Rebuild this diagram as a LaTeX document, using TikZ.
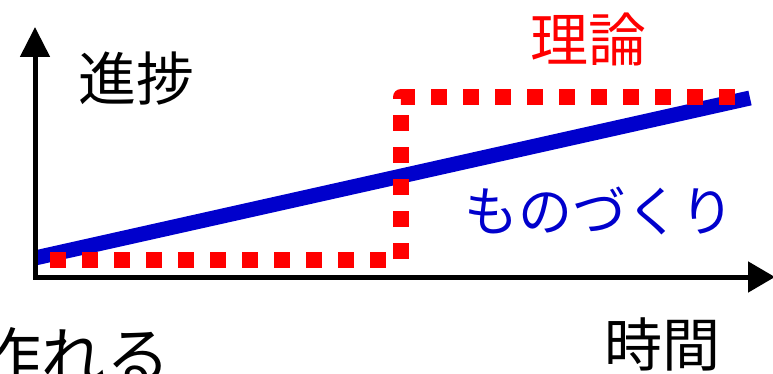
\documentclass[tikz,border=0pt]{standalone}
\usepackage{fontspec}
\newfontfamily\jpfont{Noto Sans CJK JP}
\usetikzlibrary{arrows.meta}
\definecolor{mblue}{RGB}{0,0,204}
\definecolor{tred}{RGB}{255,0,0}
\tikzset{
  axis/.style={line width=5pt, line join=miter, {Triangle[length=30pt,width=29pt]}-{Triangle[length=27pt,width=30pt]}},
  bluebar/.style={line width=15pt, draw=mblue, line cap=butt},
  reddots/.style={line width=16pt, draw=tred, line cap=butt, line join=round, dash pattern=on 16pt off 16pt},
  lbl/.style={inner sep=0pt, font=\jpfont\fontsize{58}{60}\selectfont},
}
\begin{document}
\begin{tikzpicture}[x=1pt,y=-1pt]
\useasboundingbox (0,0) rectangle (773,374);
% coordinates
\coordinate (o) at (35,277);
\coordinate (ytip) at (35,27);
\coordinate (xtip) at (775,277);
\coordinate (b1) at (35,258);
\coordinate (b2) at (750,98);
\coordinate (r0) at (50,260);
\coordinate (r1) at (401,260);
\coordinate (r2) at (401,97);
\coordinate (r3) at (740,97);
% blue line
\draw[bluebar] (b1) -- (b2);
% red dotted line
\draw[reddots] (r0) -- (r1) -- (r2) -- (r3);
% axes
\draw[axis] (ytip) -- (o) -- (xtip);
% labels
\node[lbl] (shinchoku) at (136,79) {進捗};
\node[lbl, text=tred] (riron) at (588,39) {理論};
\node[lbl, text=mblue, font=\jpfont\fontsize{54}{56}\selectfont] (monozukuri) at (599,211) {ものづくり};
\node[lbl] (jikan) at (662,344) {時間};
\node[lbl, font=\jpfont\fontsize{64}{66}\selectfont] (tsukureru) at (74,356) {作れる};
\end{tikzpicture}
\end{document}
